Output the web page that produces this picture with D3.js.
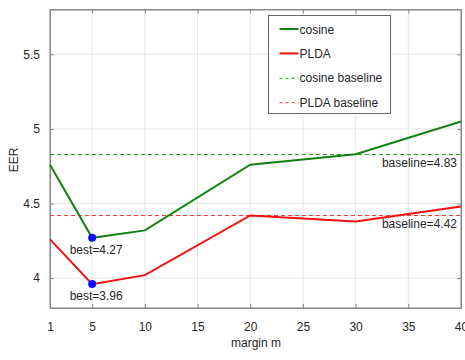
<!DOCTYPE html>
<html>
<head>
<meta charset="utf-8">
<script src="https://cdn.jsdelivr.net/npm/d3@7"></script>
<style>
body { margin: 0; background: #fff; }
text { font-family: "Liberation Sans", Arial, sans-serif; }
</style>
</head>
<body>
<div id="chart"></div>
<script>
var margins = [1, 5, 10, 20, 30, 40];
var cosineEER = [4.76, 4.27, 4.32, 4.76, 4.83, 5.05];
var pldaEER = [4.26, 3.96, 4.02, 4.42, 4.38, 4.48];
var cosineBaseline = 4.83;
var pldaBaseline = 4.42;
var xTicks = [1, 5, 10, 15, 20, 25, 30, 35, 40];
var yTicks = [4, 4.5, 5, 5.5];
var legendNames = ["cosine", "PLDA", "cosine baseline", "PLDA baseline"];

var width = 465, height = 360;
var plotLeft = 50, plotRight = 461, plotTop = 9.5, plotBottom = 308;

var svg = d3.select("#chart")
    .append("svg")
    .attr("width", width)
    .attr("height", height);

var x = d3.scaleLinear().domain([1, 40]).range([plotLeft, plotRight]);
var y = d3.scaleLinear().domain([3.8, 5.8]).range([plotBottom, plotTop]);
var snap = v => Math.round(v) + 0.5;

// grid
svg.selectAll(".vgrid")
    .data(xTicks)
    .enter().append("line")
    .attr("x1", d => x(d)).attr("x2", d => x(d))
    .attr("y1", plotTop).attr("y2", plotBottom)
    .attr("stroke", "#e6e6e6").attr("stroke-width", 1);
svg.selectAll(".hgrid")
    .data(yTicks)
    .enter().append("line")
    .attr("x1", plotLeft).attr("x2", plotRight)
    .attr("y1", d => y(d)).attr("y2", d => y(d))
    .attr("stroke", "#e6e6e6").attr("stroke-width", 1);

// box
svg.append("rect")
    .attr("x", plotLeft).attr("y", plotTop)
    .attr("width", plotRight - plotLeft).attr("height", plotBottom - plotTop)
    .attr("fill", "none").attr("stroke", "#888").attr("stroke-width", 1);

// axes with inward ticks
svg.append("g")
    .attr("transform", "translate(0," + plotBottom + ")")
    .call(d3.axisBottom(x).tickValues(xTicks).tickSizeInner(-4).tickSizeOuter(0).tickPadding(14));
svg.append("g")
    .attr("transform", "translate(" + plotLeft + ",0)")
    .call(d3.axisLeft(y).tickValues(yTicks).tickSizeInner(-4).tickSizeOuter(0).tickPadding(10).tickFormat(d3.format("")));
svg.append("g")
    .attr("transform", "translate(0," + plotTop + ")")
    .call(d3.axisTop(x).tickValues(xTicks).tickSizeInner(-4).tickSizeOuter(0).tickFormat(""));
svg.append("g")
    .attr("transform", "translate(" + plotRight + ",0)")
    .call(d3.axisRight(y).tickValues(yTicks).tickSizeInner(-4).tickSizeOuter(0).tickFormat(""));
svg.selectAll(".domain").attr("stroke", "#888");
svg.selectAll(".tick line").attr("stroke", "#888");
svg.selectAll(".tick text").attr("font-size", 12).attr("fill", "#262626")
    .attr("font-family", "Liberation Sans, Arial, sans-serif");

// baselines
svg.append("line")
    .attr("x1", plotLeft).attr("x2", plotRight)
    .attr("y1", snap(y(cosineBaseline))).attr("y2", snap(y(cosineBaseline)))
    .attr("stroke", "#2e9a2e").attr("stroke-width", 1).attr("stroke-dasharray", "4,3");
svg.append("line")
    .attr("x1", plotLeft).attr("x2", plotRight)
    .attr("y1", snap(y(pldaBaseline))).attr("y2", snap(y(pldaBaseline)))
    .attr("stroke", "#ff3030").attr("stroke-width", 1).attr("stroke-dasharray", "4,3");

var line = d3.line()
    .x((d, i) => x(margins[i]))
    .y(d => y(d));

svg.append("path").datum(cosineEER)
    .attr("d", line).attr("fill", "none")
    .attr("stroke", "#138013").attr("stroke-width", 2);
svg.append("path").datum(pldaEER)
    .attr("d", line).attr("fill", "none")
    .attr("stroke", "#f01010").attr("stroke-width", 2);

// best points
var bestC = d3.minIndex(cosineEER), bestP = d3.minIndex(pldaEER);
var best = [[margins[bestC], cosineEER[bestC]], [margins[bestP], pldaEER[bestP]]];
svg.selectAll(".best")
    .data(best)
    .enter().append("circle")
    .attr("cx", d => x(d[0])).attr("cy", d => y(d[1]))
    .attr("r", 4).attr("fill", "#0a0aff");
svg.selectAll(".bestlabel")
    .data(best)
    .enter().append("text")
    .attr("x", d => x(d[0]) + 4).attr("y", d => y(d[1]) + 16)
    .attr("text-anchor", "middle").attr("font-size", 12).attr("fill", "#262626")
    .text(d => "best=" + d3.format(".2f")(d[1]));

// baseline labels
svg.selectAll(".baselabel")
    .data([cosineBaseline, pldaBaseline])
    .enter().append("text")
    .attr("x", plotRight - 4).attr("y", d => y(d) + 13)
    .attr("text-anchor", "end").attr("font-size", 12).attr("fill", "#262626")
    .text(d => "baseline=" + d3.format(".2f")(d));

// axis labels
svg.append("text")
    .attr("x", 256).attr("y", 347)
    .attr("text-anchor", "middle").attr("font-size", 12).attr("fill", "#262626")
    .text("margin m");
svg.append("text")
    .attr("transform", "translate(18,160) rotate(-90)")
    .attr("text-anchor", "middle").attr("font-size", 12).attr("fill", "#262626")
    .text("EER");

// legend
var legend = svg.append("g").attr("transform", "translate(268.5,15.5)");
legend.append("rect")
    .attr("width", 122).attr("height", 98)
    .attr("fill", "#fff").attr("stroke", "#444").attr("stroke-width", 0.8);
var legendColors = ["#138013", "#f01010", "#2e9a2e", "#ff3030"];
var legendDash = [null, null, "3,3", "3,3"];
var legendWidths = [2, 2, 1, 1];
var rows = legend.selectAll(".row")
    .data(legendNames)
    .enter().append("g")
    .attr("transform", (d, i) => "translate(0," + (13.5 + i * 24.4) + ")");
rows.append("line")
    .attr("x1", 11).attr("x2", 30)
    .attr("y1", (d, i) => i > 1 ? 0.5 : 0).attr("y2", (d, i) => i > 1 ? 0.5 : 0)
    .attr("stroke", (d, i) => legendColors[i])
    .attr("stroke-width", (d, i) => legendWidths[i])
    .attr("stroke-dasharray", (d, i) => legendDash[i]);
rows.append("text")
    .attr("x", 31).attr("y", 4.5)
    .attr("font-size", 12).attr("fill", "#262626")
    .text(d => d);
</script>
</body>
</html>
